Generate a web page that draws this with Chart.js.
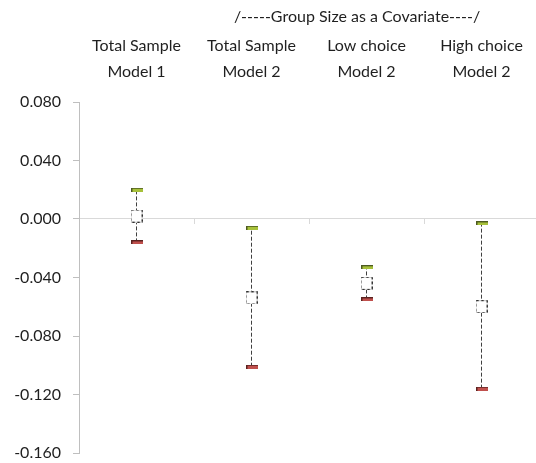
<!DOCTYPE html>
<html>
<head>
<meta charset="utf-8">
<script src="https://cdn.jsdelivr.net/npm/chart.js@4"></script>
<style>
html,body{margin:0;padding:0;overflow:hidden;background:#fff;width:536px;height:463px;}
#wrap{width:544px;height:463px;}
</style>
</head>
<body>
<div id="wrap"><canvas id="c" width="544" height="463"></canvas></div>
<script>
const categories = [["Total Sample","Model 1"],["Total Sample","Model 2"],["Low choice","Model 2"],["High choice","Model 2"]];
const upperValues = [0.020, -0.006, -0.033, -0.003];
const midValues = [0.002, -0.054, -0.044, -0.060];
const lowerValues = [-0.016, -0.101, -0.055, -0.116];
const yTickValues = [-0.160, -0.120, -0.080, -0.040, 0.000, 0.040, 0.080];
const headerText = "/-----Group Size as a Covariate----/";

const FONT = "Lato";
const TXT = "#1f1f1f";

function makeMarker(fill, edge) {
  const c = document.createElement('canvas');
  c.width = 12; c.height = 4;
  const g = c.getContext('2d');
  g.fillStyle = fill; g.fillRect(0, 0, 12, 4);
  g.fillStyle = edge; g.fillRect(0, 0, 12, 1); g.fillRect(0, 0, 2, 4);
  return c;
}
function makeSquare() {
  const c = document.createElement('canvas');
  c.width = 12; c.height = 13;
  const g = c.getContext('2d');
  g.fillStyle = '#fff'; g.fillRect(0, 0, 12, 13);
  g.strokeStyle = '#333'; g.lineWidth = 1; g.setLineDash([3, 2]);
  g.strokeRect(0.5, 0.5, 11, 12);
  return c;
}
const topImg = makeMarker('#a7c13a', '#4d5a22');
const botImg = makeMarker('#c0504d', '#5a2220');
const midImg = makeSquare();

const labelKeys = categories.map(c => c.join(' '));

const datasets = [];
categories.forEach((c, i) => {
  datasets.push({
    type: 'line',
    data: [{x: labelKeys[i], y: lowerValues[i]}, {x: labelKeys[i], y: upperValues[i]}],
    borderColor: '#404040', borderWidth: 1, borderDash: [4, 2],
    pointRadius: 0, fill: false, order: 5
  });
});
datasets.push({type:'line', data: upperValues.map((v,i)=>({x: labelKeys[i], y: v})), showLine:false, pointStyle: topImg, order: 1});
datasets.push({type:'line', data: lowerValues.map((v,i)=>({x: labelKeys[i], y: v})), showLine:false, pointStyle: botImg, order: 1});
datasets.push({type:'line', data: midValues.map((v,i)=>({x: labelKeys[i], y: v})), showLine:false, pointStyle: midImg, order: 1});

const extras = {
  id: 'extras',
  beforeDatasetsDraw(chart) {
    const {ctx, scales:{x, y}} = chart;
    const y0 = y.getPixelForValue(0);
    ctx.save();
    ctx.strokeStyle = '#d9d9d9'; ctx.lineWidth = 1;
    const n = categories.length;
    const step = x.getPixelForValue(1) - x.getPixelForValue(0);
    for (let i = 1; i <= n; i++) {
      let px = x.getPixelForValue(i-1) + step / 2;
      px = Math.round(px) + 0.5;
      ctx.beginPath(); ctx.moveTo(px, Math.round(y0)); ctx.lineTo(px, Math.round(y0) + 5); ctx.stroke();
    }
    ctx.restore();
  },
  afterDraw(chart) {
    const {ctx} = chart;
    ctx.save();
    ctx.font = "16px " + FONT;
    ctx.fillStyle = TXT; ctx.textAlign = 'center'; ctx.textBaseline = 'middle';
    ctx.fillText(headerText, 357, 17);
    ctx.restore();
  }
};

new Chart(document.getElementById('c'), {
  data: { labels: labelKeys, datasets },
  options: {
    responsive: false, animation: false,
    layout: { padding: { top: 0, right: 1, bottom: 0, left: 0 } },
    plugins: { legend: { display: false }, tooltip: { enabled: false } },
    scales: {
      x: {
        type: 'category', position: 'top', offset: true,
        grid: { display: false }, border: { display: false },
        ticks: {
          font: { family: FONT, size: 16, lineHeight: 1.65 }, color: TXT, padding: 9, maxRotation: 0, autoSkip: false,
          callback: (v, i) => categories[i]
        },
        afterFit(s) { s.height = 102; }
      },
      y: {
        min: -0.16, max: 0.08,
        afterBuildTicks(s) { s.ticks = yTickValues.map(v => ({value: v})); },
        afterFit(s) { s.width = 79; s.paddingBottom = 10; s.paddingTop = 0; },
        border: { color: '#bfbfbf', width: 1 },
        grid: {
          color: ctx => (ctx.tick && ctx.tick.value === 0) ? '#d9d9d9' : 'rgba(0,0,0,0)',
          tickColor: '#bfbfbf', tickLength: 6, drawTicks: true
        },
        ticks: {
          font: { family: FONT, size: 16 }, color: TXT, padding: 12,
          callback: v => v.toFixed(3)
        }
      }
    }
  },
  plugins: [extras]
});
</script>
</body>
</html>
